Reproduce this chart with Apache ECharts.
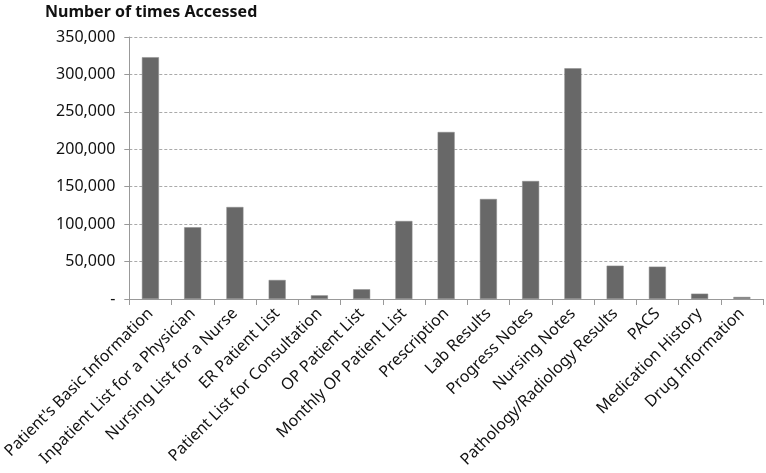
<!DOCTYPE html>
<html><head><meta charset="utf-8">
<script src="https://cdn.jsdelivr.net/npm/echarts@6/dist/echarts.min.js"></script>
<style>html,body{margin:0;padding:0;background:#fff}#c{width:766px;height:473px}</style>
</head><body><div id="c"></div>
<script>
const categories = ["Patient's Basic Information","Inpatient List for a Physician","Nursing List for a Nurse","ER Patient List","Patient List for Consultation","OP Patient List","Monthly OP Patient List","Prescription","Lab Results","Progress Notes","Nursing Notes","Pathology/Radiology Results","PACS","Medication History","Drug Information"];
const accessCounts = [323000,95800,122900,25400,4900,13000,104200,223100,133600,157600,308200,44500,43200,7100,2700];
const yTitle = "Number of times Accessed";

const chart = echarts.init(document.getElementById('c'));
const font = '"Noto Sans", sans-serif';
chart.setOption({
  animation:false,
  title:{text:yTitle,left:40,top:-1,textStyle:{fontFamily:font,fontSize:16,fontWeight:'bold',color:'#111'}},
  grid:{left:123,right:3,top:37,bottom:174},
  xAxis:{type:'category',data:categories,
    axisLine:{lineStyle:{color:'#999',width:1}},
    axisTick:{show:true,length:6,lineStyle:{color:'#999'}},
    axisLabel:{rotate:45,interval:0,fontFamily:font,fontSize:16,color:'#111',margin:12}},
  yAxis:{type:'value',min:0,max:350000,interval:50000,
    axisLine:{show:true,lineStyle:{color:'#999'}},
    axisTick:{show:true,length:5,lineStyle:{color:'#999'}},
    splitLine:{lineStyle:{color:'#aaa',type:[3,2],width:1}},
    axisLabel:{fontFamily:font,fontSize:16,color:'#111',margin:14,
      formatter:v=>v===0?'-':v.toLocaleString('en-US')}},
  series:[{type:'bar',data:accessCounts,barWidth:17,
    itemStyle:{color:'#686868',borderColor:'#8a8a8a',borderWidth:0.5}}]
});
</script></body></html>
